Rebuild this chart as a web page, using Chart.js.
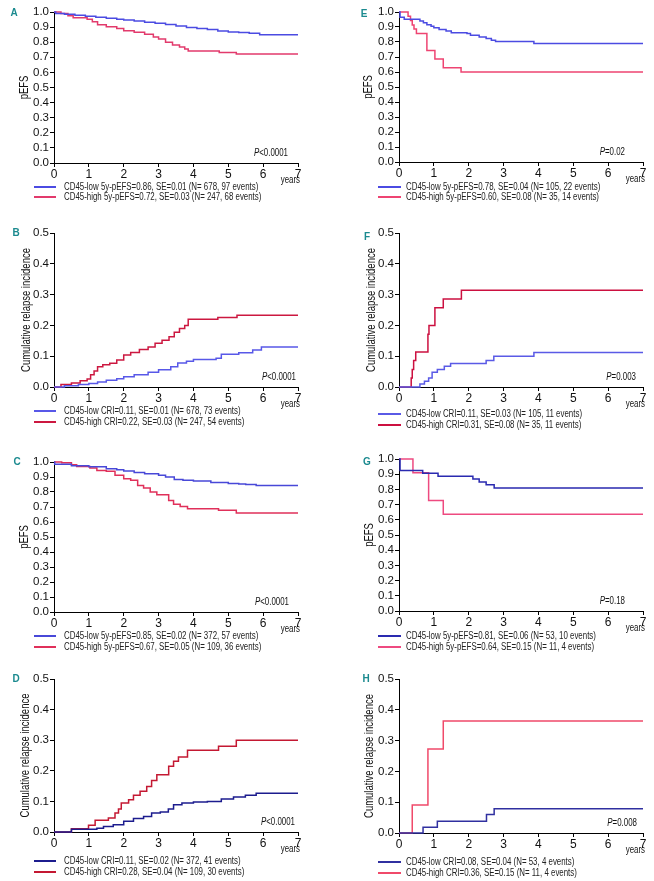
<!DOCTYPE html>
<html>
<head>
<meta charset="utf-8">
<script src="https://cdn.jsdelivr.net/npm/chart.js@4"></script>
<style>
  body { margin: 0; background: #fff; }
  #wrap { position: relative; width: 654px; height: 881px; overflow: hidden; }
  #wrap canvas { position: absolute; }
</style>
</head>
<body>
<div id="wrap"></div>
<script>
const FONT = "'Liberation Sans', Arial, sans-serif";
const SX = 0.79; // horizontal squeeze, the original uses a narrow face

// ---- data (years, probability) ----
// A: pEFS, all patients
const tA_low  = [0, 0.05, 0.3, 0.6, 0.9, 1.2, 1.5, 1.8, 2.0, 2.3, 2.6, 2.9, 3.2, 3.5, 3.8, 4.1, 4.4, 4.7, 5.0, 5.3, 5.6, 5.9, 7];
const sA_low  = [1.0, 0.99, 0.985, 0.978, 0.972, 0.965, 0.958, 0.952, 0.947, 0.94, 0.932, 0.925, 0.917, 0.908, 0.898, 0.89, 0.884, 0.874, 0.868, 0.864, 0.86, 0.85, 0.85];
const tA_high = [0, 0.2, 0.4, 0.55, 0.95, 1.1, 1.25, 1.5, 1.8, 2.0, 2.3, 2.6, 2.85, 3.0, 3.2, 3.4, 3.6, 3.75, 3.85, 4.74, 5.23, 7];
const sA_high = [1.0, 0.99, 0.975, 0.962, 0.952, 0.935, 0.915, 0.903, 0.89, 0.876, 0.866, 0.852, 0.835, 0.822, 0.8, 0.782, 0.768, 0.755, 0.742, 0.732, 0.722, 0.722];

// B: cumulative relapse incidence, all patients
const tB_low  = [0, 0.3, 0.7, 1.0, 1.25, 1.5, 1.8, 2.0, 2.3, 2.7, 3.0, 3.35, 3.55, 3.8, 4.0, 4.65, 4.8, 5.3, 5.7, 5.95, 7];
const sB_low  = [0, 0.004, 0.008, 0.011, 0.016, 0.022, 0.027, 0.033, 0.04, 0.048, 0.056, 0.066, 0.078, 0.084, 0.089, 0.093, 0.106, 0.111, 0.12, 0.13, 0.13];
const tB_high = [0, 0.2, 0.5, 0.75, 0.95, 1.05, 1.15, 1.25, 1.4, 1.6, 1.8, 2.0, 2.2, 2.45, 2.7, 2.9, 3.1, 3.3, 3.45, 3.6, 3.75, 3.85, 4.7, 5.25, 7];
const sB_high = [0, 0.008, 0.013, 0.02, 0.026, 0.04, 0.052, 0.066, 0.072, 0.077, 0.088, 0.104, 0.112, 0.122, 0.13, 0.142, 0.152, 0.163, 0.178, 0.19, 0.2, 0.22, 0.226, 0.233, 0.233];

// C: pEFS
const tC_low  = [0, 0.02, 0.5, 1.0, 1.5, 1.8, 2.0, 2.3, 2.6, 3.0, 3.2, 3.45, 3.7, 4.0, 4.5, 5.0, 5.3, 5.5, 5.8, 7];
const sC_low  = [1.0, 0.985, 0.975, 0.968, 0.955, 0.948, 0.94, 0.93, 0.922, 0.911, 0.9, 0.884, 0.878, 0.873, 0.864, 0.857, 0.853, 0.85, 0.843, 0.843];
const tC_high = [0, 0.22, 0.5, 0.65, 1.03, 1.23, 1.5, 1.75, 2.0, 2.2, 2.4, 2.57, 2.76, 2.95, 3.29, 3.43, 3.62, 3.83, 4.72, 5.23, 7];
const sC_high = [1.0, 0.995, 0.982, 0.97, 0.96, 0.944, 0.938, 0.911, 0.889, 0.878, 0.844, 0.827, 0.8, 0.782, 0.744, 0.718, 0.704, 0.689, 0.678, 0.66, 0.66];

// D: cumulative relapse incidence
const tD_low  = [0, 0.5, 1.23, 1.42, 1.7, 2.0, 2.28, 2.57, 2.8, 3.05, 3.28, 3.43, 3.67, 4.0, 4.4, 4.8, 5.15, 5.49, 5.8, 7];
const sD_low  = [0, 0.009, 0.012, 0.018, 0.024, 0.035, 0.044, 0.051, 0.062, 0.065, 0.075, 0.089, 0.095, 0.098, 0.1, 0.108, 0.114, 0.12, 0.127, 0.127];
const tD_high = [0, 0.5, 0.99, 1.18, 1.56, 1.75, 1.85, 1.93, 2.14, 2.28, 2.47, 2.66, 2.8, 2.95, 3.29, 3.43, 3.57, 3.83, 4.72, 5.23, 7];
const sD_high = [0, 0.011, 0.022, 0.038, 0.046, 0.062, 0.075, 0.095, 0.105, 0.12, 0.133, 0.149, 0.168, 0.187, 0.215, 0.231, 0.245, 0.267, 0.28, 0.3, 0.3];

// E: pEFS
const tE_low  = [0, 0.03, 0.15, 0.6, 0.7, 0.8, 0.92, 1.0, 1.15, 1.35, 1.5, 1.95, 2.05, 2.3, 2.5, 2.65, 2.77, 3.87, 7];
const sE_low  = [1.0, 0.965, 0.952, 0.94, 0.928, 0.915, 0.905, 0.895, 0.884, 0.873, 0.862, 0.856, 0.845, 0.834, 0.823, 0.812, 0.803, 0.79, 0.79];
const tE_high = [0, 0.26, 0.33, 0.38, 0.43, 0.5, 0.8, 1.03, 1.27, 1.78, 7];
const sE_high = [1.0, 0.971, 0.943, 0.914, 0.886, 0.857, 0.743, 0.686, 0.629, 0.6, 0.6];

// F: cumulative relapse incidence
const tF_low  = [0, 0.6, 0.73, 0.85, 0.95, 1.1, 1.3, 1.48, 2.5, 2.72, 3.87, 7];
const sF_low  = [0, 0.01, 0.019, 0.029, 0.048, 0.057, 0.067, 0.076, 0.086, 0.1, 0.112, 0.112];
const tF_high = [0, 0.35, 0.38, 0.42, 0.48, 0.83, 0.86, 1.03, 1.27, 1.79, 7];
const sF_high = [0, 0.029, 0.057, 0.086, 0.114, 0.171, 0.2, 0.257, 0.286, 0.314, 0.314];

// G: pEFS
const tG_low  = [0, 0.03, 0.68, 1.12, 2.12, 2.3, 2.5, 2.73, 7];
const sG_low  = [1.0, 0.925, 0.906, 0.887, 0.868, 0.849, 0.83, 0.81, 0.81];
const tG_high = [0, 0.4, 0.85, 1.27, 7];
const sG_high = [1.0, 0.909, 0.727, 0.636, 0.636];

// H: cumulative relapse incidence
const tH_low  = [0, 0.69, 1.1, 2.51, 2.73, 7];
const sH_low  = [0, 0.019, 0.038, 0.06, 0.079, 0.079];
const tH_high = [0, 0.38, 0.83, 1.27, 7];
const sH_high = [0, 0.091, 0.273, 0.364, 0.364];

// legend texts
const legA = ["CD45-low 5y-pEFS=0.86, SE=0.01 (N= 678, 97 events)", "CD45-high 5y-pEFS=0.72, SE=0.03 (N= 247, 68 events)"];
const legB = ["CD45-low CRI=0.11, SE=0.01 (N= 678, 73 events)", "CD45-high CRI=0.22, SE=0.03 (N= 247, 54 events)"];
const legC = ["CD45-low 5y-pEFS=0.85, SE=0.02 (N= 372, 57 events)", "CD45-high 5y-pEFS=0.67, SE=0.05 (N= 109, 36 events)"];
const legD = ["CD45-low CRI=0.11, SE=0.02 (N= 372, 41 events)", "CD45-high CRI=0.28, SE=0.04 (N= 109, 30 events)"];
const legE = ["CD45-low 5y-pEFS=0.78, SE=0.04 (N= 105, 22 events)", "CD45-high 5y-pEFS=0.60, SE=0.08 (N= 35, 14 events)"];
const legF = ["CD45-low CRI=0.11, SE=0.03 (N= 105, 11 events)", "CD45-high CRI=0.31, SE=0.08 (N= 35, 11 events)"];
const legG = ["CD45-low 5y-pEFS=0.81, SE=0.06 (N= 53, 10 events)", "CD45-high 5y-pEFS=0.64, SE=0.15 (N= 11, 4 events)"];
const legH = ["CD45-low CRI=0.08, SE=0.04 (N= 53, 4 events)", "CD45-high CRI=0.36, SE=0.15 (N= 11, 4 events)"];

const pvals = { A: "<0.0001", B: "<0.0001", C: "<0.0001", D: "<0.0001", E: "=0.02", F: "=0.003", G: "=0.18", H: "=0.008" };

const yearTicks = [0, 1, 2, 3, 4, 5, 6, 7];
const efsTicks  = [0, 0.1, 0.2, 0.3, 0.4, 0.5, 0.6, 0.7, 0.8, 0.9, 1.0];
const criTicks  = [0, 0.1, 0.2, 0.3, 0.4, 0.5];

// ---- layout of the 8 panels ----
const panels = [
  { id: "A", x: 0,   y: 0,   w: 330, h: 205, cl: 54, cr: 298, ct: 12, cb: 163, ymax: 1.0, yt: efsTicks, title: "pEFS", titleX: 25,
    lowT: tA_low, lowS: sA_low, highT: tA_high, highS: sA_high, leg: legA, blue: "#4b4be2", red: "#e23a6c",
    lx: 14, ly: 13, pIn: 10, rows: [187, 197] },
  { id: "B", x: 0,   y: 205, w: 330, h: 225, cl: 54, cr: 298, ct: 28, cb: 182, ymax: 0.5, yt: criTicks, title: "Cumulative relapse incidence", titleX: 27,
    lowT: tB_low, lowS: sB_low, highT: tB_high, highS: sB_high, leg: legB, blue: "#5858e8", red: "#cc1840",
    lx: 16, ly: 28, pIn: 2, rows: [206, 217] },
  { id: "C", x: 0,   y: 430, w: 330, h: 225, cl: 54, cr: 298, ct: 32, cb: 182, ymax: 1.0, yt: efsTicks, title: "pEFS", titleX: 25,
    lowT: tC_low, lowS: sC_low, highT: tC_high, highS: sC_high, leg: legC, blue: "#4848d8", red: "#e0305a",
    lx: 17, ly: 32, pIn: 9, rows: [206, 217] },
  { id: "D", x: 0,   y: 655, w: 330, h: 226, cl: 54, cr: 298, ct: 24, cb: 177, ymax: 0.5, yt: criTicks, title: "Cumulative relapse incidence", titleX: 26,
    lowT: tD_low, lowS: sD_low, highT: tD_high, highS: sD_high, leg: legD, blue: "#1c1c8e", red: "#c41832",
    lx: 16, ly: 24, pIn: 3, rows: [206, 217] },
  { id: "E", x: 330, y: 0,   w: 324, h: 205, cl: 69, cr: 313, ct: 12, cb: 162, ymax: 1.0, yt: efsTicks, title: "pEFS", titleX: 39,
    lowT: tE_low, lowS: sE_low, highT: tE_high, highS: sE_high, leg: legE, blue: "#4b4be2", red: "#ee4472",
    lx: 34, ly: 14, pIn: 18, rows: [187, 197] },
  { id: "F", x: 330, y: 205, w: 324, h: 225, cl: 69, cr: 313, ct: 28, cb: 182, ymax: 0.5, yt: criTicks, title: "Cumulative relapse incidence", titleX: 42,
    lowT: tF_low, lowS: sF_low, highT: tF_high, highS: sF_high, leg: legF, blue: "#5a5ae6", red: "#cc1040",
    lx: 37, ly: 32, pIn: 7, rows: [209, 220] },
  { id: "G", x: 330, y: 430, w: 324, h: 225, cl: 69, cr: 313, ct: 29, cb: 181, ymax: 1.0, yt: efsTicks, title: "pEFS", titleX: 40,
    lowT: tG_low, lowS: sG_low, highT: tG_high, highS: sG_high, leg: legG, blue: "#2a2ab0", red: "#ee4a80",
    lx: 37, ly: 32, pIn: 18, rows: [206, 217] },
  { id: "H", x: 330, y: 655, w: 324, h: 226, cl: 69, cr: 313, ct: 24, cb: 178, ymax: 0.5, yt: criTicks, title: "Cumulative relapse incidence", titleX: 40,
    lowT: tH_low, lowS: sH_low, highT: tH_high, highS: sH_high, leg: legH, blue: "#3030a0", red: "#f04a6a",
    lx: 36, ly: 24, pIn: 6, rows: [207, 218] }
];

// text squeezed horizontally (rot = rotation in radians)
function squeezed(ctx, text, x, y, align, rot) {
  ctx.save();
  ctx.translate(x, y);
  if (rot) ctx.rotate(rot);
  ctx.scale(SX, 1);
  ctx.textAlign = align;
  ctx.fillText(text, 0, 0);
  ctx.restore();
}

// draws panel letter, y title, P value, "years" and the legend rows
const decor = {
  id: "decor",
  afterDraw(chart, args, o) {
    const ctx = chart.ctx;
    const a = chart.chartArea;
    ctx.save();
    ctx.textBaseline = "middle";

    ctx.fillStyle = "#1b8a8f";
    ctx.font = "bold 10px " + FONT;
    ctx.textAlign = "center";
    ctx.fillText(o.letter, o.lx, o.ly);

    ctx.fillStyle = "#111";
    ctx.font = "12px " + FONT;
    squeezed(ctx, o.title, o.titleX, (a.top + a.bottom) / 2, "center", -Math.PI / 2);

    ctx.font = "10px " + FONT;
    squeezed(ctx, "years", a.right + 2, a.bottom + 17, "right");

    const restW = ctx.measureText(o.pval).width * SX;
    ctx.font = "italic 10px " + FONT;
    const pW = ctx.measureText("P").width * SX;
    const px = a.right - o.pIn - restW - pW;
    squeezed(ctx, "P", px, a.bottom - 10, "left");
    ctx.font = "10px " + FONT;
    squeezed(ctx, o.pval, px + pW, a.bottom - 10, "left");

    chart.data.datasets.forEach((ds, i) => {
      const y = o.rows[i];
      ctx.strokeStyle = ds.borderColor;
      ctx.lineWidth = 2;
      ctx.beginPath();
      ctx.moveTo(o.lineX0, y);
      ctx.lineTo(o.lineX1, y);
      ctx.stroke();
      ctx.fillStyle = "#222";
      squeezed(ctx, ds.label, o.textX, y, "left");
    });
    ctx.restore();
  }
};

Chart.defaults.font.family = FONT;
Chart.defaults.color = "#111";

const wrap = document.getElementById("wrap");

function toPoints(ts, vs) {
  return ts.map((t, i) => ({ x: t, y: vs[i] }));
}

panels.forEach(p => {
  const cv = document.createElement("canvas");
  cv.width = p.w;
  cv.height = p.h;
  cv.style.left = p.x + "px";
  cv.style.top = p.y + "px";
  cv.style.width = p.w + "px";
  cv.style.height = p.h + "px";
  wrap.appendChild(cv);

  const left = p.x === 0;

  new Chart(cv, {
    type: "line",
    data: {
      datasets: [
        { label: p.leg[0], data: toPoints(p.lowT, p.lowS), borderColor: p.blue, borderWidth: 1.5,
          stepped: true, pointRadius: 0, fill: false, clip: false },
        { label: p.leg[1], data: toPoints(p.highT, p.highS), borderColor: p.red, borderWidth: 1.5,
          stepped: true, pointRadius: 0, fill: false, clip: false }
      ]
    },
    options: {
      responsive: false,
      animation: false,
      events: [],
      layout: { padding: { left: 0, top: p.ct, right: p.w - p.cr, bottom: p.h - p.cb - 22 } },
      plugins: {
        legend: { display: false },
        tooltip: { enabled: false },
        decor: {
          letter: p.id, lx: p.lx, ly: p.ly, pval: pvals[p.id], pIn: p.pIn, rows: p.rows,
          title: p.title, titleX: p.titleX,
          lineX0: left ? 34 : 48, lineX1: left ? 56 : 71, textX: left ? 64 : 76
        }
      },
      scales: {
        x: {
          type: "linear", min: 0, max: 7,
          afterBuildTicks: s => { s.ticks = yearTicks.map(v => ({ value: v })); },
          ticks: { padding: 0, color: "#111", autoSkip: false, maxRotation: 0, font: { size: 12 } },
          grid: { drawOnChartArea: false, tickLength: 4, color: "#000" },
          border: { color: "#000", width: 1 },
          afterFit: s => { s.height = 22; }
        },
        y: {
          min: 0, max: p.ymax,
          afterBuildTicks: s => { s.ticks = p.yt.map(v => ({ value: v })); },
          ticks: { padding: 1, color: "#111", autoSkip: false, font: { size: 11.5 },
                   callback: v => v.toFixed(1) },
          grid: { drawOnChartArea: false, tickLength: 4, color: "#000" },
          border: { color: "#000", width: 1 },
          afterFit: s => { s.width = p.cl; }
        }
      }
    },
    plugins: [decor]
  });
});
</script>
</body>
</html>
